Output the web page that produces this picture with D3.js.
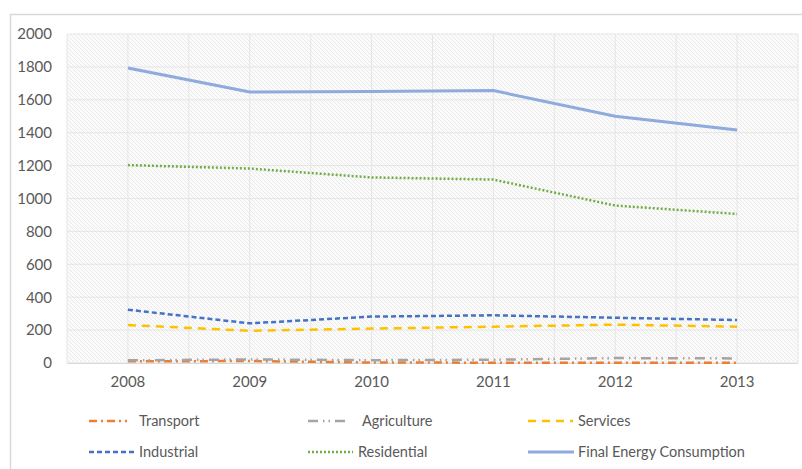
<!DOCTYPE html>
<html><head><meta charset="utf-8">
<script src="https://cdn.jsdelivr.net/npm/d3@7"></script>
<style>body{margin:0;background:#fff;}svg{display:block;font-family:Lato,"Open Sans",sans-serif;}</style>
</head><body><svg id="c" width="802" height="469"></svg>
<script>
const years = ["2008","2009","2010","2011","2012","2013"];
const transport   = [10, 12, 3, 2, 2, 2];
const agriculture = [16, 22, 17, 20, 30, 28];
const services    = [231, 196, 209, 221, 233, 221];
const industrial  = [324, 241, 282, 290, 275, 261];
const residential = [1203, 1182, 1128, 1115, 957, 906];
const finalEnergy = [1793, 1647, 1650, 1656, 1500, 1416];
const yTicks = [0, 200, 400, 600, 800, 1000, 1200, 1400, 1600, 1800, 2000];

const series = [
  {name:"Transport", values:transport, color:"#ED7D31", dash:"8,4,2,4", w:2.5},
  {name:"Agriculture", values:agriculture, color:"#A5A5A5", dash:"10,5,1.5,4,1.5,5", w:2.5},
  {name:"Services", values:services, color:"#FFC000", dash:"8,6", w:2.5},
  {name:"Industrial", values:industrial, color:"#4472C4", dash:"5,3", w:2.5},
  {name:"Residential", values:residential, color:"#70AD47", dash:"2,2", w:2.5},
  {name:"Final Energy Consumption", values:finalEnergy, color:"#8FAADC", dash:null, w:3}
];

const svg = d3.select("#c");
const defs = svg.append("defs");
const pat = defs.append("pattern").attr("id","hatch").attr("patternUnits","userSpaceOnUse")
  .attr("width",4).attr("height",4);
pat.append("rect").attr("width",4).attr("height",4).attr("fill","#fbfbfb");
pat.append("path").attr("d","M-1,-1 L5,5 M-1,3 L1,5 M3,-1 L5,1").attr("stroke","#e6e6e6").attr("stroke-width",0.8);

// outer frame
svg.append("rect").attr("x",10.5).attr("y",14.5).attr("width",800).attr("height",470)
  .attr("fill","#fff").attr("stroke","#d9d9d9").attr("stroke-width",1.5);

const L = 67, R = 798, T = 34, B = 363;
const x = d3.scaleBand().domain(years).range([L, R]);
const y = d3.scaleLinear().domain([0, 2000]).range([B, T]);

svg.append("rect").attr("x",L).attr("y",T).attr("width",R-L).attr("height",B-T).attr("fill","url(#hatch)");

// gridlines
const g = svg.append("g");
g.selectAll(".hg").data(yTicks).join("line")
  .attr("x1",L).attr("x2",R).attr("y1",d=>y(d)).attr("y2",d=>y(d))
  .attr("stroke","#e6e6e6").attr("stroke-width",1);
const vPos = [];
years.forEach(yy=>{vPos.push(x(yy)); vPos.push(x(yy)+x.bandwidth()/2);});
vPos.push(R);
g.selectAll(".vg").data(vPos).join("line")
  .attr("x1",d=>d).attr("x2",d=>d).attr("y1",T).attr("y2",B)
  .attr("stroke","#e6e6e6").attr("stroke-width",1);
svg.append("line").attr("x1",L).attr("x2",R).attr("y1",B+0.5).attr("y2",B+0.5).attr("stroke","#d9d9d9");

// axes
const yAxis = d3.axisLeft(y).tickValues(yTicks).tickFormat(d3.format("d")).tickSize(0).tickPadding(0);
const ya = svg.append("g").attr("transform",`translate(52,0)`).call(yAxis);
ya.select(".domain").remove();
ya.selectAll("text").attr("fill","#595959").style("font-size","15px").style("font-family","Lato,sans-serif");

const xAxis = d3.axisBottom(x).tickSize(0).tickPadding(0);
const xa = svg.append("g").attr("transform",`translate(0,${B+13})`).call(xAxis);
xa.select(".domain").remove();
xa.selectAll("text").attr("fill","#595959").style("font-size","15px").style("font-family","Lato,sans-serif");

// lines
const line = d3.line().x((d,i)=>x(years[i])+x.bandwidth()/2).y(d=>y(d));
svg.append("g").selectAll("path").data(series).join("path")
  .attr("d",d=>line(d.values)).attr("fill","none")
  .attr("stroke",d=>d.color).attr("stroke-width",d=>d.w)
  .attr("stroke-dasharray",d=>d.dash).attr("stroke-linejoin","round");

// legend
const legPos = [
  {sx:89, ex:127, tx:139, ty:421},
  {sx:308, ex:350, tx:362, ty:421},
  {sx:528, ex:573, tx:578, ty:421},
  {sx:89, ex:135, tx:139, ty:452},
  {sx:308, ex:353, tx:358, ty:452},
  {sx:528, ex:574, tx:578, ty:452}
];
const leg = svg.append("g").selectAll("g").data(series).join("g");
leg.append("line").attr("x1",(d,i)=>legPos[i].sx).attr("x2",(d,i)=>legPos[i].ex)
  .attr("y1",(d,i)=>legPos[i].ty).attr("y2",(d,i)=>legPos[i].ty)
  .attr("stroke",d=>d.color).attr("stroke-width",d=>d.w).attr("stroke-dasharray",d=>d.dash);
leg.append("text").attr("x",(d,i)=>legPos[i].tx).attr("y",(d,i)=>legPos[i].ty)
  .attr("dy","0.35em").attr("fill","#595959").style("font-size","14.5px").text(d=>d.name);
</script></body></html>
